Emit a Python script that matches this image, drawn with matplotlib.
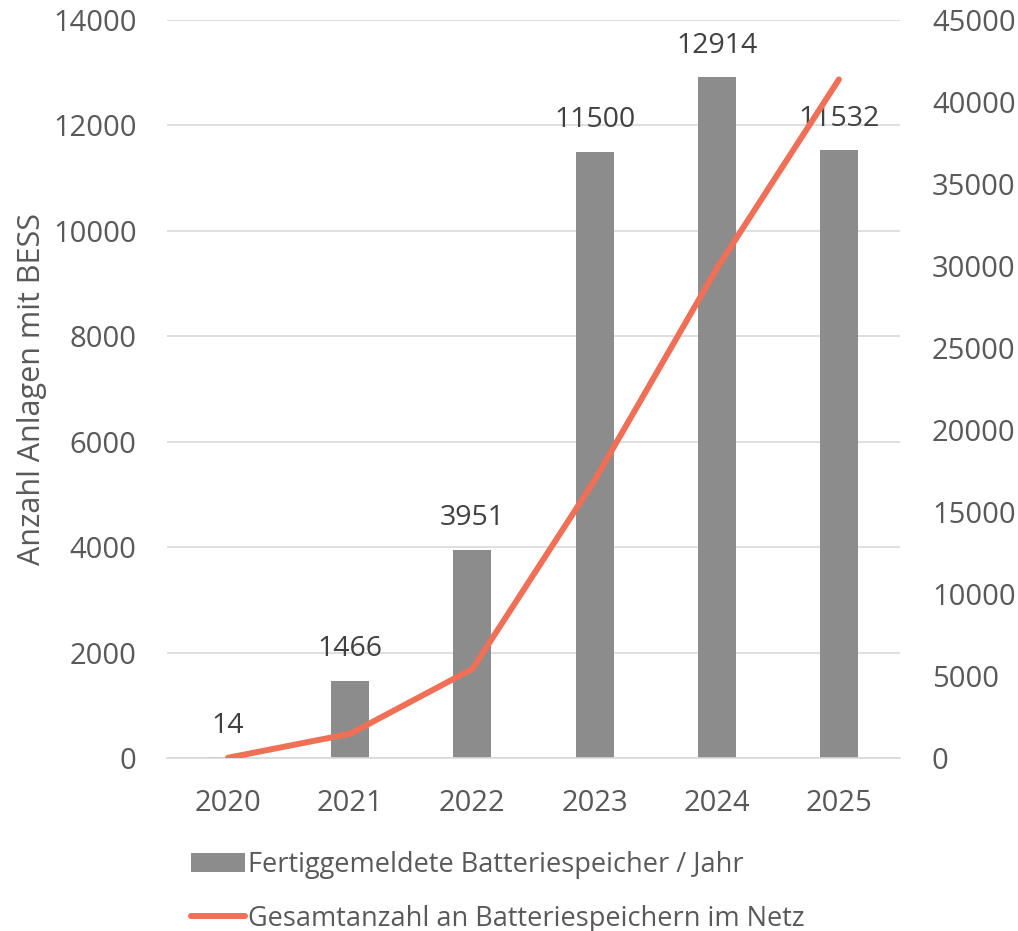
import matplotlib
matplotlib.use("Agg")
import matplotlib.pyplot as plt

years = ["2020", "2021", "2022", "2023", "2024", "2025"]
annual = [14, 1466, 3951, 11500, 12914, 11532]
cumulative = [14, 1480, 5431, 16931, 29845, 41377]

plt.rcParams['font.family'] = ['Open Sans', 'DejaVu Sans']
tick_color = '#595959'
bar_color = '#8C8C8C'
line_color = '#F07057'

fig = plt.figure(figsize=(10.18, 9.31), dpi=100)
ax = fig.add_axes([167/1018, 1 - 758/931, (900-167)/1018, (758-20)/931])
ax2 = ax.twinx()

x = list(range(len(years)))
bars = ax.bar(x, annual, width=0.31, color=bar_color, zorder=2,
              label="Fertiggemeldete Batteriespeicher / Jahr")
ax.set_ylim(0, 14000)
ax.set_xlim(-0.5, 5.5)
ax.set_yticks(range(0, 14001, 2000))
ax.set_xticks(x)
ax.set_xticklabels(years)
ax.grid(axis='y', color='#D9D9D9', linewidth=1.2, zorder=0)
ax.set_axisbelow(True)
for s in ['top', 'left', 'right']:
    ax.spines[s].set_visible(False)
ax.spines['bottom'].set_color('#D9D9D9')
ax.spines['bottom'].set_linewidth(1.2)
ax.tick_params(axis='both', length=0, labelsize=21, colors=tick_color)
ax.tick_params(axis='x', pad=22)
ax.tick_params(axis='y', pad=22)
ax.set_ylabel("Anzahl Anlagen mit BESS", fontsize=22, color=tick_color, labelpad=4)

for xi, v in zip(x, annual):
    ax.text(xi, v + 330, str(v), ha='center', va='bottom', fontsize=20.5, color='#404040', zorder=5)

line, = ax2.plot(x, cumulative, color=line_color, linewidth=4.3, solid_capstyle='round',
                 label="Gesamtanzahl an Batteriespeichern im Netz", zorder=3)
ax2.set_ylim(0, 45000)
ax2.set_yticks(range(0, 45001, 5000))
for s in ['top', 'left', 'right', 'bottom']:
    ax2.spines[s].set_visible(False)
ax2.tick_params(axis='y', length=0, labelsize=21, colors=tick_color, pad=23)

fig.legend(handles=[bars, line], loc='upper left', bbox_to_anchor=(180/1018, 1 - 840/931),
           frameon=False, fontsize=19.5, labelcolor=tick_color, handlelength=2.0,
           handletextpad=0.1, labelspacing=0.95, borderaxespad=0)

fig.savefig("out.png", dpi=100)
